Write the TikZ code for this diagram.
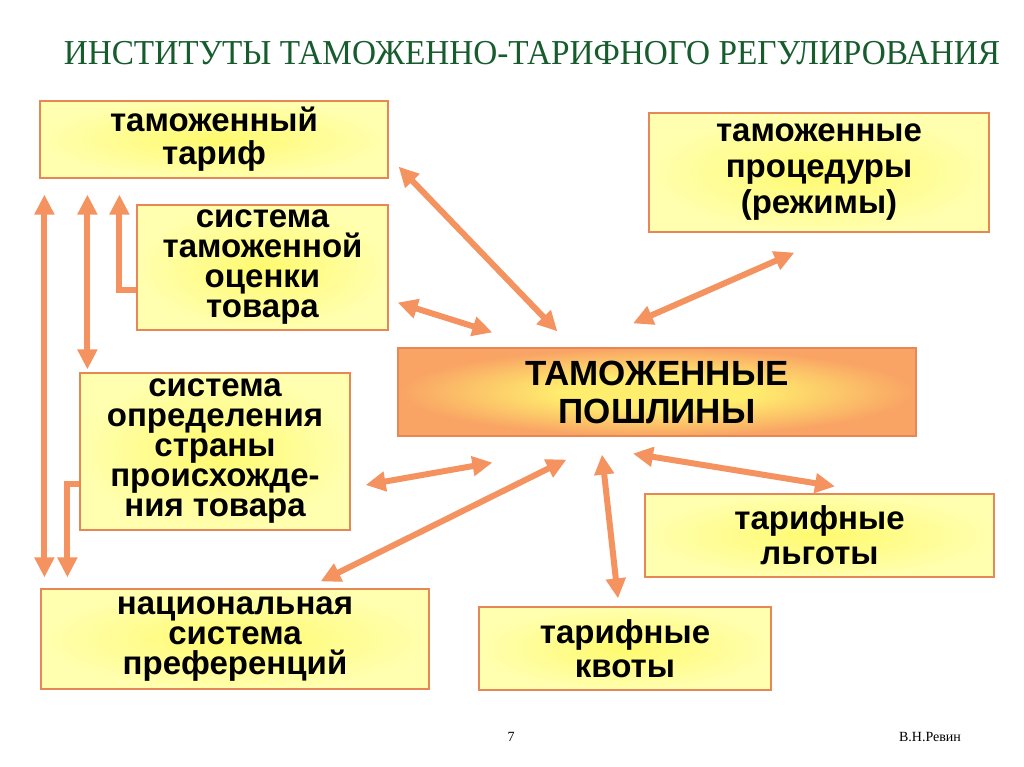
\documentclass[tikz,border=0pt]{standalone}
\usepackage{fontspec}
\setmainfont{Liberation Serif}
\setsansfont{Liberation Sans}
\usepackage{tikz}
\usetikzlibrary{arrows.meta,positioning}
\definecolor{pilfarge}{RGB}{244,146,96}
\definecolor{kantfarge}{RGB}{230,135,85}
\definecolor{titfarge}{RGB}{22,92,45}
\definecolor{kjernegul}{RGB}{255,238,110}
\definecolor{kjerneoransje}{RGB}{249,163,100}
\pgfdeclareradialshading{kjerne}{\pgfpoint{0bp}{0bp}}{%
  color(0bp)=(kjernegul); color(9bp)=(kjernegul);
  color(25bp)=(kjerneoransje); color(50bp)=(kjerneoransje)}
\tikzset{
    %Define standard arrow tip
    >={Triangle[length=20pt,width=19pt]},
    %Define style for boxes
    kasse/.style={
           rectangle,
           draw=kantfarge, line width=1.2pt,
           inner color={rgb,255:red,255;green,250;blue,110},
           outer color={rgb,255:red,255;green,255;blue,175},
           inner sep=0pt,
           font=\sffamily\bfseries\fontsize{33}{30}\selectfont,
           align=center},
    hovedkasse/.style={
           kasse,
           shading=kjerne,
           font=\sffamily\bfseries\fontsize{35}{38}\selectfont},
    % Define arrow style
    pil/.style={
           <->,
           draw=pilfarge,
           line width=6pt}
}

\begin{document}
\begin{tikzpicture}[x=1pt,y=-1pt]
\useasboundingbox[fill=white] (0,0) rectangle (1024,767);

 %title
\node[text=titfarge, font=\fontsize{35}{40}\selectfont] (title) at (532,53)
    {\scalebox{0.95}[1]{ИНСТИТУТЫ ТАМОЖЕННО-ТАРИФНОГО РЕГУЛИРОВАНИЯ}};

 %nodes
\node[kasse, minimum width=348pt, minimum height=77pt, font=\sffamily\bfseries\fontsize{33}{33}\selectfont] (tariff) at (214,139.5) {таможенный\\тариф};
\node[kasse, minimum width=251pt, minimum height=125pt] (valuation) at (262.5,267.5) {система\\таможенной\\оценки\\товара};
\node[kasse, minimum width=340pt, minimum height=119pt, font=\sffamily\bfseries\fontsize{33}{36}\selectfont] (procedures) at (819,172.5) {таможенные\\процедуры\\(режимы)};
\node[hovedkasse, minimum width=518pt, minimum height=88pt] (duties) at (657,392) {ТАМОЖЕННЫЕ\\ПОШЛИНЫ};
\node[kasse, minimum width=270pt, minimum height=157pt] (origin) at (215,451.5) {система\\определения\\страны\\происхожде-\\ния товара};
\node[kasse, minimum width=388pt, minimum height=100pt] (preferences) at (235,639) {национальная\\система\\преференций};
\node[kasse, minimum width=349pt, minimum height=83pt, font=\sffamily\bfseries\fontsize{33}{35}\selectfont] (benefits) at (819.5,535.5) {тарифные\\льготы};
\node[kasse, minimum width=292pt, minimum height=83pt, font=\sffamily\bfseries\fontsize{33}{34}\selectfont] (quotas) at (625,648.5) {тарифные\\квоты};

 %footer
\node[font=\fontsize{14}{16}\selectfont] (page) at (511,737) {7};
\node[font=\fontsize{14}{16}\selectfont] (author) at (930,737) {В.Н.Ревин};

 %arrows to the duties
\draw[pil] ([xshift=10pt,yshift=12pt]tariff.south east) -- ([xshift=160pt,yshift=16pt]duties.north west);
\draw[pil] ([xshift=9pt,yshift=28pt]valuation.south east) -- ([xshift=95pt,yshift=15pt]duties.north west);
\draw[pil] ([xshift=146pt,yshift=-20pt]procedures.south west) -- ([xshift=-24pt,yshift=24pt]duties.north);
\draw[pil] ([xshift=15pt,yshift=-33.5pt]origin.east) -- ([xshift=95pt,yshift=-26pt]duties.south west);
\draw[pil] ([xshift=-109pt,yshift=7pt]preferences.north east) -- ([xshift=169pt,yshift=-23pt]duties.south west);
\draw[pil] ([xshift=-55pt,yshift=-18pt]duties.south) -- ([xshift=-7pt,yshift=8pt]quotas.north);
\draw[pil] ([xshift=-24pt,yshift=-17pt]duties.south) -- ([xshift=15.5pt,yshift=7pt]benefits.north);

 %arrows on the left side
\draw[pil] ([xshift=5pt,yshift=-16pt]tariff.south west) -- ([xshift=4pt,yshift=11pt]preferences.north west);
\draw[pil] ([xshift=48pt,yshift=-16pt]tariff.south west) -- ([xshift=8pt,yshift=3pt]origin.north west);
\draw[pil, <-] ([xshift=80pt,yshift=-16pt]tariff.south west) |- ([yshift=-22.5pt]valuation.west);
\draw[pil, ->] ([yshift=-32.5pt]origin.west) -| ([xshift=27pt,yshift=11pt]preferences.north west);

\end{tikzpicture}
\end{document}
